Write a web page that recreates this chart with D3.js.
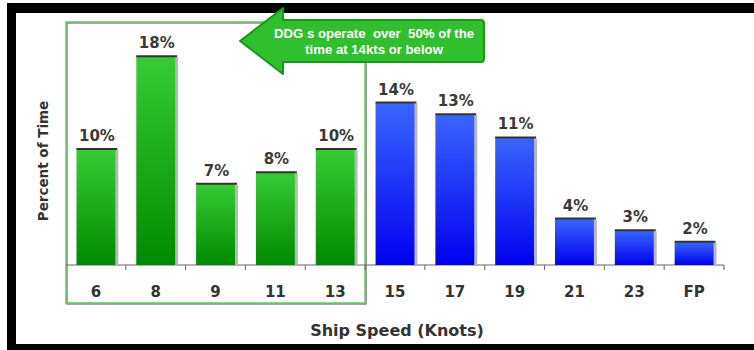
<!DOCTYPE html>
<html><head><meta charset="utf-8">
<script src="https://cdn.jsdelivr.net/npm/d3@7"></script>
<style>body{margin:0;background:#fff}svg{display:block}</style>
</head><body><svg id="c" width="754" height="350"></svg>
<script>
const categories = ["6","8","9","11","13","15","17","19","21","23","FP"];
const percentValues = [10,18,7,8,10,14,13,11,4,3,2];
const groups = ["low","low","low","low","low","high","high","high","high","high","high"];
const calloutLines = ["DDG s operate  over  50% of the","time at 14kts or below"];
const xTitle = "Ship Speed (Knots)";
const yTitle = "Percent of Time";

const svg = d3.select("#c");
const defs = svg.append("defs");
function grad(id, top, bottom){
  const g = defs.append("linearGradient").attr("id",id).attr("x1",0).attr("y1",0).attr("x2",0).attr("y2",1);
  g.append("stop").attr("offset","0%").attr("stop-color",top);
  g.append("stop").attr("offset","100%").attr("stop-color",bottom);
}
grad("gGreen","#36cc36","#008a00");
grad("gBlue","#3a66ff","#0000ee");
const FONT = "DejaVu Sans, Verdana, sans-serif";

// outer frame
svg.append("rect").attr("x",7).attr("y",3).attr("width",754).attr("height",10).attr("fill","#000");
svg.append("rect").attr("x",7).attr("y",3).attr("width",9).attr("height",347).attr("fill","#000");
svg.append("rect").attr("x",7).attr("y",344).attr("width",754).attr("height",6).attr("fill","#000");

const x = d3.scaleBand().domain(categories).range([66,724]).paddingInner(0.35).paddingOuter(0.175);
const y = d3.scaleLinear().domain([0,20]).range([265,33]);
const half = x.step()*x.paddingInner()/2;

// green highlight box
const lowCats = categories.filter((c,i)=>groups[i]==="low");
const boxX0 = x(lowCats[0]) - x.step()*x.paddingOuter();
const boxX1 = x(lowCats[lowCats.length-1]) + x.bandwidth() + half;
svg.append("rect").attr("x",boxX0+1).attr("y",23).attr("width",boxX1-boxX0).attr("height",281)
  .attr("fill","none").attr("stroke","#888").attr("stroke-width",1.5);
svg.append("rect").attr("x",boxX0).attr("y",22).attr("width",boxX1-boxX0).attr("height",281)
  .attr("fill","none").attr("stroke","#5cc85c").attr("stroke-width",1.5);

// axis baseline with ticks
const axisG = svg.append("g").attr("transform",`translate(0,${y(0)})`);
const xAxis = d3.axisBottom(x).tickSize(0).tickPadding(21).tickFormat(d=>d);
axisG.call(xAxis);
axisG.select(".domain").remove();
axisG.append("line").attr("x1",x.range()[0]).attr("x2",x.range()[1]).attr("y1",0).attr("y2",0).attr("stroke","#666").attr("stroke-width",1.2);
categories.forEach((c,i)=>{
  const tx = x(c)+x.bandwidth()+half;
  axisG.append("line").attr("x1",tx).attr("x2",tx).attr("y1",0).attr("y2",5).attr("stroke","#666");
});
axisG.selectAll(".tick text").attr("font-family",FONT).attr("font-weight","bold")
  .attr("font-size",15).attr("fill","#333");

// bars
const bars = svg.append("g").selectAll("g").data(categories).join("g");
bars.append("rect").attr("x",d=>x(d)+3).attr("y",(d,i)=>y(percentValues[i])+1)
  .attr("width",x.bandwidth()).attr("height",(d,i)=>y(0)-y(percentValues[i])-1).attr("fill","#b8b8b8");
bars.append("rect").attr("x",d=>x(d)).attr("y",(d,i)=>y(percentValues[i]))
  .attr("width",x.bandwidth()).attr("height",(d,i)=>y(0)-y(percentValues[i]))
  .attr("fill",(d,i)=>groups[i]==="low"?"url(#gGreen)":"url(#gBlue)");
bars.append("line").attr("x1",d=>x(d)).attr("x2",d=>x(d)+x.bandwidth()+2)
  .attr("y1",(d,i)=>y(percentValues[i])).attr("y2",(d,i)=>y(percentValues[i]))
  .attr("stroke","#333").attr("stroke-width",2);
bars.append("text").attr("x",d=>x(d)+x.bandwidth()/2+1).attr("y",(d,i)=>y(percentValues[i])-8)
  .attr("text-anchor","middle").attr("font-family",FONT).attr("font-weight","bold")
  .attr("font-size",15).attr("fill","#3a3a3a").text((d,i)=>percentValues[i]+"%");

// axis titles
svg.append("text").attr("x",397).attr("y",336).attr("text-anchor","middle")
  .attr("font-family",FONT).attr("font-weight","bold").attr("font-size",16)
  .attr("fill","#333").text(xTitle);
svg.append("text").attr("transform","translate(48,161) rotate(-90)").attr("text-anchor","middle")
  .attr("font-family",FONT).attr("font-weight","bold").attr("font-size",13.5)
  .attr("fill","#333").text(yTitle);

// callout arrow
const ax0 = 240, ay = 41, hx = 283, hTop = 8, hBot = 74, bTop = 20, bBot = 62, bRight = 484;
const path = `M${ax0},${ay} L${hx},${hTop} L${hx},${bTop} L${bRight-3},${bTop} Q${bRight},${bTop} ${bRight},${bTop+3} L${bRight},${bBot-3} Q${bRight},${bBot} ${bRight-3},${bBot} L${hx},${bBot} L${hx},${hBot} Z`;
svg.append("path").attr("d",path).attr("fill","#2fbf2f").attr("stroke","#159a15").attr("stroke-width",2).attr("stroke-linejoin","round");
svg.append("text").attr("x",374).attr("y",38).attr("text-anchor","middle").style("white-space","pre")
  .attr("font-family","Liberation Sans, Arial, sans-serif").attr("font-size",13.2).attr("font-weight","bold")
  .attr("fill","#fff")
  .selectAll("tspan").data(calloutLines).join("tspan").attr("x",374).attr("dy",(d,i)=>i?16:0).text(d=>d);
</script></body></html>
